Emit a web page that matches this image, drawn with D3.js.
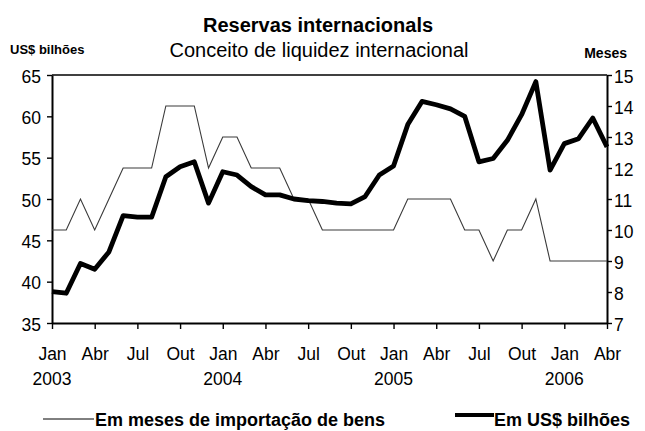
<!DOCTYPE html>
<html>
<head>
<meta charset="utf-8">
<script src="https://cdn.jsdelivr.net/npm/d3@7"></script>
<style>
  body { margin: 0; background: #fff; }
  svg { font-family: "Liberation Sans", Arial, sans-serif; }
</style>
</head>
<body>
<svg id="chart" width="645" height="431"></svg>
<script>
// monthly series, Jan 2003 .. Apr 2006
var reservas = [38.8, 38.6, 42.2, 41.5, 43.6, 48.0, 47.8, 47.8, 52.7, 53.9, 54.5, 49.5,
                53.3, 52.9, 51.5, 50.5, 50.5, 50.0, 49.8, 49.7, 49.5, 49.4, 50.3, 52.9,
                54.0, 59.0, 61.8, 61.4, 60.9, 60.0, 54.5, 54.9, 57.1, 60.2, 64.2, 53.5,
                56.7, 57.3, 59.8, 56.3];
var meses = [10, 10, 11, 10, 11, 12, 12, 12, 14, 14, 14, 12,
             13, 13, 12, 12, 12, 11, 11, 10, 10, 10, 10, 10,
             10, 11, 11, 11, 11, 10, 10, 9, 10, 10, 11, 9,
             9, 9, 9, 9];
var quarterLabels = ["Jan", "Abr", "Jul", "Out"];
var years = ["2003", "2004", "2005", "2006"];
var leftTicks = [35, 40, 45, 50, 55, 60, 65];
var rightTicks = [7, 8, 9, 10, 11, 12, 13, 14, 15];

var margin = {left: 52, right: 38, top: 75, bottom: 108};
var width = 645, height = 431;
var svg = d3.select("#chart");

var x = d3.scaleLinear().domain([0, reservas.length - 1]).range([margin.left, width - margin.right]);
var yL = d3.scaleLinear().domain([35, 65]).range([height - margin.bottom, margin.top]);
var yR = d3.scaleLinear().domain([7, 15]).range([height - margin.bottom, margin.top]);

// titles
svg.append("text").text("Reservas internacionals").attr("x", 318).attr("y", 32)
    .attr("text-anchor", "middle").style("font-size", "20px").style("font-weight", "bold");
svg.append("text").text("Conceito de liquidez internacional").attr("x", 319).attr("y", 57)
    .attr("text-anchor", "middle").style("font-size", "20px");
svg.append("text").text("US$ bilhões").attr("x", 10).attr("y", 54)
    .style("font-size", "13px").style("font-weight", "bold");
svg.append("text").text("Meses").attr("x", 627).attr("y", 58).attr("text-anchor", "end")
    .style("font-size", "14px").style("font-weight", "bold");

// frame top
svg.append("line").attr("x1", margin.left).attr("x2", width - margin.right)
    .attr("y1", margin.top).attr("y2", margin.top).style("stroke", "#000").style("stroke-width", 1.6);

var axL = svg.append("g").attr("transform", "translate(" + margin.left + ",0)")
    .call(d3.axisLeft(yL).tickValues(leftTicks).tickSize(5).tickSizeOuter(0));
var axR = svg.append("g").attr("transform", "translate(" + (width - margin.right) + ",0)")
    .call(d3.axisRight(yR).tickValues(rightTicks).tickSize(5).tickSizeOuter(0));

var qTicks = d3.range(0, reservas.length, 3);
var axB = svg.append("g").attr("transform", "translate(0," + (height - margin.bottom) + ")")
    .call(d3.axisBottom(x).tickValues(qTicks).tickSize(6).tickSizeOuter(0)
        .tickFormat(function (d) { return quarterLabels[(d / 3) % 4]; }));

[axL, axR, axB].forEach(function (a) {
    a.select(".domain").style("stroke", "#000").style("stroke-width", 2);
    a.selectAll(".tick line").style("stroke", "#000").style("stroke-width", 1.4);
    a.selectAll(".tick text").style("font-size", "17.5px").style("fill", "#000")
        .style("font-family", "Liberation Sans, Arial, sans-serif");
});
axL.selectAll(".tick text").attr("x", -11).attr("dy", "0.4em");
axR.selectAll(".tick text").attr("x", 7).attr("dy", "0.4em");
axB.selectAll(".tick text").attr("y", 37).attr("dy", 0);

// years under January ticks
svg.selectAll(".year").data(years).enter().append("text")
    .attr("x", function (d, i) { return x(i * 12); })
    .attr("y", 385)
    .attr("text-anchor", "middle").style("font-size", "17.5px")
    .text(function (d) { return d; });

// lines
var lineL = d3.line().x(function (d, i) { return x(i); }).y(function (d) { return yL(d); });
var lineR = d3.line().x(function (d, i) { return x(i); }).y(function (d) { return yR(d); });

svg.append("path").datum(meses).attr("d", lineR)
    .style("fill", "none").style("stroke", "#3a3a3a").style("stroke-width", 1.1);
svg.append("path").datum(reservas).attr("d", lineL)
    .style("fill", "none").style("stroke", "#000").style("stroke-width", 4.8)
    .style("stroke-linejoin", "round");

// legend
var lg = svg.append("g").attr("transform", "translate(0,419)");
lg.append("line").attr("x1", 43).attr("x2", 94).attr("y1", 0).attr("y2", 0)
    .style("stroke", "#000").style("stroke-width", 1);
lg.append("text").text("Em meses de importação de bens").attr("x", 95).attr("y", 7)
    .style("font-size", "18px").style("font-weight", "bold");
lg.append("line").attr("x1", 455).attr("x2", 494).attr("y1", -4).attr("y2", -4)
    .style("stroke", "#000").style("stroke-width", 4);
lg.append("text").text("Em US$ bilhões").attr("x", 494).attr("y", 7)
    .style("font-size", "18px").style("font-weight", "bold");
</script>
</body>
</html>
